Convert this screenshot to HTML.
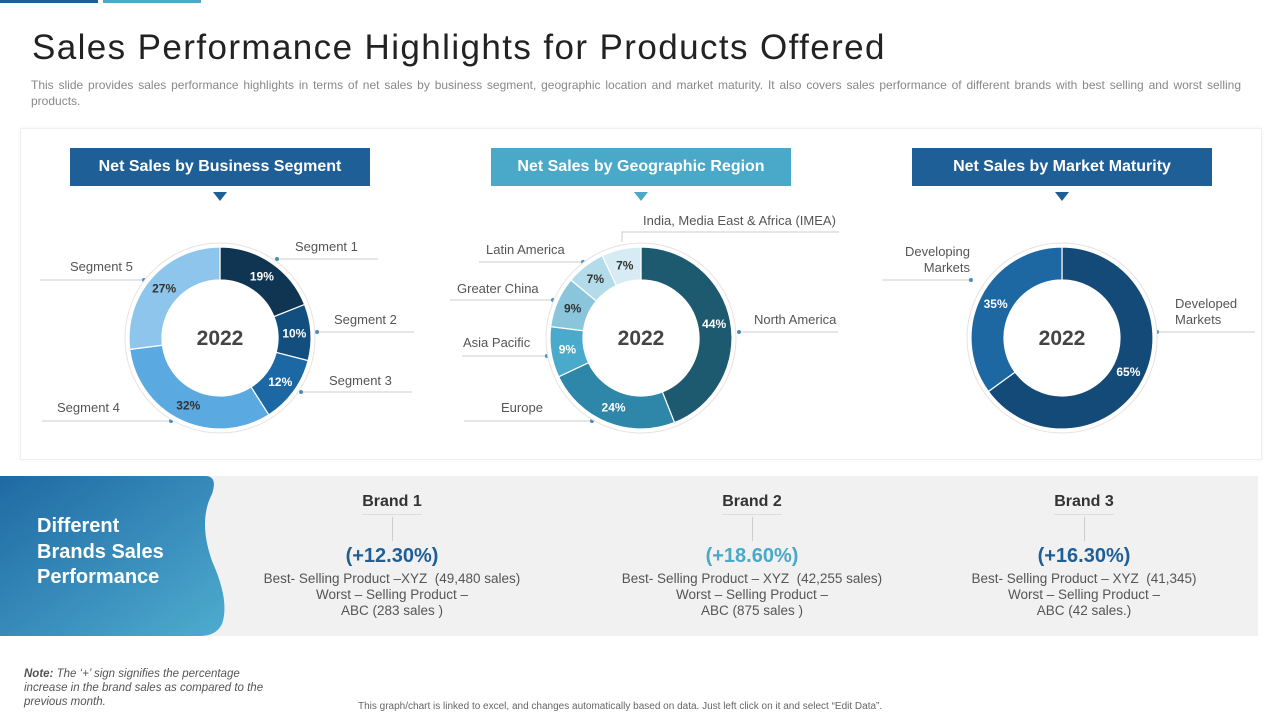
<!DOCTYPE html>
<html><head><meta charset="utf-8"><style>
body{margin:0;width:1280px;height:720px;background:#fff;font-family:"Liberation Sans",sans-serif;position:relative;overflow:hidden}
.a{position:absolute}
.hdr{position:absolute;top:148px;width:300px;height:38px;color:#fff;font-weight:bold;font-size:16px;line-height:38px;text-align:center}
.tri{position:absolute;top:192px;width:0;height:0;border-left:7px solid transparent;border-right:7px solid transparent;border-top:9px solid #1d5f96}
.brand{position:absolute;top:494px;width:340px;text-align:center;color:#555;font-size:13.5px;line-height:16px}
.brand h4{margin:0;font-size:16px;color:#333;height:20px}
.brand .ln{width:1px;height:24px;background:#ccc;margin:2px auto 3px}
.brand .bh{width:60px;height:1px;background:#ddd;margin:0 auto}
.brand .pc{font-size:20px;font-weight:bold;margin-bottom:3px;line-height:24px}
</style></head><body>
<div class="a" style="left:0;top:0;width:98px;height:3px;background:#1d5f96"></div>
<div class="a" style="left:103px;top:0;width:98px;height:3px;background:#4aa8c8"></div>
<div class="a" style="left:32px;top:28px;font-size:35px;color:#222;letter-spacing:1.4px">Sales Performance Highlights for Products Offered</div>
<div class="a" style="left:31px;top:77px;width:1210px;font-size:12px;line-height:16px;color:#888;text-align:justify">This slide provides sales performance highlights in terms of net sales by business segment, geographic location and market maturity. It also covers sales performance of different brands with best selling and worst selling products.</div>
<div class="a" style="left:20px;top:128px;width:1240px;height:330px;border:1px solid #f0f0f0;box-shadow:0 0 4px rgba(0,0,0,0.05)"></div>
<div class="hdr" style="left:70px;background:#1d5f96">Net Sales by Business Segment</div>
<div class="tri" style="left:213px"></div>
<div class="hdr" style="left:491px;background:#4aa8c8">Net Sales by Geographic Region</div>
<div class="tri" style="left:634px;border-top-color:#4aa8c8"></div>
<div class="hdr" style="left:912px;background:#1d5f96">Net Sales by Market Maturity</div>
<div class="tri" style="left:1055px"></div>
<svg id="ch" class="a" style="left:0;top:0" width="1280" height="470" font-family="Liberation Sans, sans-serif">
<g fill="none" stroke="#ccc" stroke-width="1">
<path d="M277,259H378M317,332H414M301,392H412M42,421H171M40,280H144"/>
<path d="M622,242V232H839M479,262H583M450,300H553M462,356H547M464,421H592M739,332H838"/>
<path d="M882,280H971M1157,332H1255"/>
</g>
<g font-size="13" fill="#555">
<text x="295" y="251">Segment 1</text><text x="334" y="324">Segment 2</text><text x="329" y="385">Segment 3</text><text x="57" y="412">Segment 4</text><text x="70" y="271">Segment 5</text>
<text x="643" y="225">India, Media East &amp; Africa (IMEA)</text><text x="486" y="254">Latin America</text><text x="457" y="293">Greater China</text><text x="463" y="347">Asia Pacific</text><text x="501" y="412">Europe</text><text x="754" y="324">North America</text>
<text x="970" y="256" text-anchor="end">Developing</text><text x="970" y="272" text-anchor="end">Markets</text>
<text x="1175" y="308">Developed</text><text x="1175" y="324">Markets</text>
</g>
<g fill="#4a8fb8"><circle cx="277" cy="259" r="2"/><circle cx="317" cy="332" r="2"/><circle cx="301" cy="392" r="2"/><circle cx="171" cy="421" r="2"/><circle cx="144" cy="280" r="2"/><circle cx="583" cy="262" r="2"/><circle cx="553" cy="300" r="2"/><circle cx="547" cy="356" r="2"/><circle cx="592" cy="421" r="2"/><circle cx="739" cy="332" r="2"/><circle cx="971" cy="280" r="2"/><circle cx="1157" cy="332" r="2"/></g>
</svg>
<div class="a" style="left:0;top:476px;width:1258px;height:160px;background:#f1f1f1"></div>
<svg class="a" style="left:0;top:476px" width="230" height="161">
<defs><linearGradient id="g" x1="0" y1="0" x2="1" y2="1"><stop offset="0" stop-color="#1f69a3"/><stop offset="1" stop-color="#4eaccf"/></linearGradient></defs>
<path d="M0,0H205Q218,0 212,18Q198,45 212,85Q230,125 222,148Q216,160 200,160H0Z" fill="url(#g)"/>
</svg>
<div class="a" style="left:37px;top:514px;color:#fff;font-weight:bold;font-size:20px;line-height:25.5px">Different<br>Brands Sales<br>Performance</div>
<div class="brand" style="left:222px"><h4>Brand 1</h4><div class="bh"></div><div class="ln"></div><div class="pc" style="color:#1f5f96">(+12.30%)</div>Best- Selling Product –XYZ &nbsp;(49,480 sales)<br>Worst – Selling Product –<br>ABC (283 sales )</div>
<div class="brand" style="left:582px"><h4>Brand 2</h4><div class="bh"></div><div class="ln"></div><div class="pc" style="color:#4aa8c8">(+18.60%)</div>Best- Selling Product – XYZ &nbsp;(42,255 sales)<br>Worst – Selling Product –<br>ABC (875 sales )</div>
<div class="brand" style="left:914px"><h4>Brand 3</h4><div class="bh"></div><div class="ln"></div><div class="pc" style="color:#1f5f96">(+16.30%)</div>Best- Selling Product – XYZ &nbsp;(41,345)<br>Worst – Selling Product –<br>ABC (42 sales.)</div>
<div class="a" style="left:24px;top:667px;width:240px;font-size:11.5px;line-height:14px;color:#555;font-style:italic"><b>Note:</b> The ‘+’ sign signifies the percentage increase in the brand sales as compared to the previous month.</div>
<div class="a" style="left:358px;top:701px;font-size:10px;color:#666">This graph/chart is linked to excel, and changes automatically based on data. Just left click on it and select “Edit Data”.</div>
<script>
const segValues=[19,10,12,32,27];
const segColors=['#0f3552','#134f7e','#1c68a4','#5aa9e0','#8ec5ec'];
const segTextColors=['#fff','#fff','#fff','#333','#333'];
const geoValues=[44,24,9,9,7,7];
const geoColors=['#1d5a70','#2e86a8','#4aaacb','#8ac5dc','#b4dbea','#d6ebf4'];
const geoTextColors=['#fff','#fff','#fff','#333','#333','#333'];
const matValues=[65,35];
const matColors=['#134a78','#1d67a3'];
const matTextColors=['#fff','#fff'];
const svg=document.getElementById('ch');
const NS='http://www.w3.org/2000/svg';
function pt(cx,cy,r,a){return [cx+r*Math.sin(a),cy-r*Math.cos(a)];}
function donut(cx,cy,vals,cols,tcols,name){
  const ring=document.createElementNS(NS,'circle');
  ring.setAttribute('cx',cx);ring.setAttribute('cy',cy);ring.setAttribute('r',95);
  ring.setAttribute('fill','#fff');ring.setAttribute('stroke','#e8e2e0');
  
  
  svg.appendChild(ring);
  const tot=vals.reduce((a,b)=>a+b,0);const R=91,r=58;let a0=0;
  vals.forEach((v,i)=>{
    const a1=a0+v/tot*2*Math.PI;const lg=(a1-a0)>Math.PI?1:0;
    const p1=pt(cx,cy,R,a0),p2=pt(cx,cy,R,a1),p3=pt(cx,cy,r,a1),p4=pt(cx,cy,r,a0);
    const p=document.createElementNS(NS,'path');
    p.setAttribute('d',`M${p1}A${R},${R} 0 ${lg} 1 ${p2}L${p3}A${r},${r} 0 ${lg} 0 ${p4}Z`);
    p.setAttribute('fill',cols[i]);p.setAttribute('stroke','#fff');p.setAttribute('stroke-width','1.2');
    
    
    svg.appendChild(p);
    const m=pt(cx,cy,(R+r)/2,(a0+a1)/2);
    const t=document.createElementNS(NS,'text');
    t.setAttribute('x',m[0]);t.setAttribute('y',m[1]+4);t.setAttribute('text-anchor','middle');
    t.setAttribute('font-size','12');t.setAttribute('font-weight','bold');t.setAttribute('fill',tcols[i]);
    t.textContent=v+'%';
    
    
    svg.appendChild(t);
    a0=a1;
  });
  const c=document.createElementNS(NS,'text');
  c.setAttribute('x',cx);c.setAttribute('y',cy+7);c.setAttribute('text-anchor','middle');
  c.setAttribute('font-size','21');c.setAttribute('font-weight','bold');c.setAttribute('fill','#444');
  c.textContent='2022';
  
  
  svg.appendChild(c);
}
donut(220,338,segValues,segColors,segTextColors,'segment-donut');
donut(641,338,geoValues,geoColors,geoTextColors,'geo-donut');
donut(1062,338,matValues,matColors,matTextColors,'maturity-donut');
</script>
</body></html>
